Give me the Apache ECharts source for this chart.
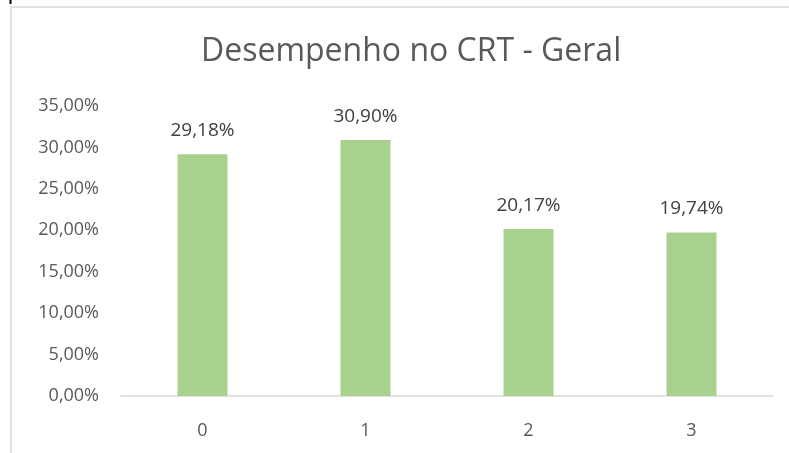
<!DOCTYPE html>
<html>
<head>
<meta charset="utf-8">
<script src="https://cdn.jsdelivr.net/npm/echarts@6/dist/echarts.min.js"></script>
<style>
  html, body { margin: 0; padding: 0; background: #fff; }
  #main { width: 789px; height: 453px; }
</style>
</head>
<body>
<div id="main"></div>
<script>
var categories = ['0', '1', '2', '3'];
var values = [29.18, 30.90, 20.17, 19.74];
var yTicks = [0, 5, 10, 15, 20, 25, 30, 35];

function pct(v) {
  return v.toFixed(2).replace('.', ',') + '%';
}

var chart = echarts.init(document.getElementById('main'));
var option = {
  backgroundColor: '#fff',
  animation: false,
  textStyle: { fontFamily: 'Open Sans' },
  title: {
    text: 'Desempenho no CRT - Geral',
    left: 196,
    top: 31,
    textStyle: { fontSize: 32, fontWeight: 'normal', color: '#595959', fontFamily: 'Open Sans' }
  },
  graphic: [
    { type: 'polyline', shape: { points: [[11, 453], [11, 7], [789, 7]] },
      style: { stroke: '#d9d9d9', lineWidth: 1.5, fill: null } },
    { type: 'line', shape: { x1: 10.5, y1: 0, x2: 10.5, y2: 4 },
      style: { stroke: '#000', lineWidth: 2 } }
  ],
  grid: { left: 121, right: 16, top: 106, bottom: 57 },
  xAxis: {
    type: 'category',
    data: categories,
    axisLine: { lineStyle: { color: '#d9d9d9', width: 1.5 } },
    axisTick: { show: false },
    axisLabel: { color: '#595959', fontSize: 18, margin: 26 }
  },
  yAxis: {
    type: 'value',
    min: yTicks[0],
    max: yTicks[yTicks.length - 1],
    interval: 5,
    splitLine: { show: false },
    axisLine: { show: false },
    axisTick: { show: false },
    axisLabel: { color: '#595959', fontSize: 18, margin: 22, formatter: pct }
  },
  series: [{
    type: 'bar',
    data: values,
    barWidth: 50,
    itemStyle: { color: '#A9D18E' },
    label: {
      show: true,
      position: 'top',
      distance: 14,
      color: '#404040',
      fontSize: 19,
      formatter: function (p) { return pct(p.value); }
    }
  }]
};
chart.setOption(option);
</script>
</body>
</html>
